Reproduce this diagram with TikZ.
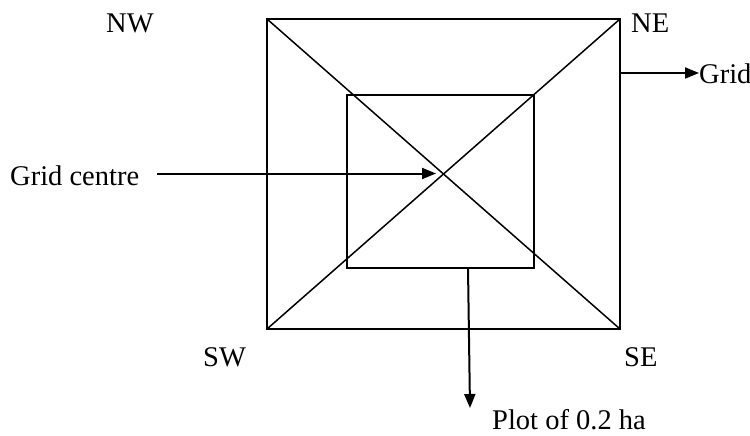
\documentclass[tikz,border=0pt]{standalone}
\usepackage{fontspec}
\setmainfont{Liberation Serif}
\usetikzlibrary{arrows.meta}
\begin{document}
\begin{tikzpicture}[x=1pt,y=-1pt,
  lbl/.style={anchor=base west,inner sep=0pt,font=\fontsize{28.5}{34}\selectfont},
  boxline/.style={line width=1.8pt},
  diag/.style={line width=1.5pt},
  arr/.style={line width=2pt,-{Triangle[length=14pt,width=11pt]}}]
\useasboundingbox (0,0) rectangle (750,436);
% outer square corners
\coordinate (nw) at (267,19);
\coordinate (ne) at (620,19);
\coordinate (se) at (620,329);
\coordinate (sw) at (267,329);
\draw[boxline] (nw) -- (ne) -- (se) -- (sw) -- cycle;
\draw[diag] (nw) -- (se);
\draw[diag] (ne) -- (sw);
% inner square
\coordinate (inw) at (347,95);
\coordinate (ise) at (534,268);
\draw[boxline] (inw) rectangle (ise);
% labels
\node[lbl] (tNW) at (106,33) {NW};
\node[lbl] (tNE) at (631,33) {NE};
\node[lbl] (tSW) at (203,366.5) {SW};
\node[lbl] (tSE) at (624,366.5) {SE};
\node[lbl] (tGrid) at (699,84) {Grid};
\node[lbl] (tCentre) at (10,185) {Grid centre};
\node[lbl] (tPlot) at (492,429.5) {Plot of 0.2 ha};
% arrows
\coordinate (gridstart) at (620,73);
\coordinate (gridend) at (699,73);
\draw[arr] (gridstart) -- (gridend);
\coordinate (cstart) at (157,173.5);
\coordinate (cend) at (436,173.5);
\draw[arr] (cstart) -- (cend);
\coordinate (pstart) at (468,268);
\coordinate (pend) at (470,408);
\draw[arr] (pstart) -- (pend);
\end{tikzpicture}
\end{document}
